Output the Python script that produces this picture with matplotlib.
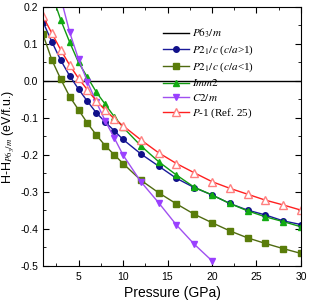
import numpy as np
import matplotlib
matplotlib.use('Agg')
import matplotlib.pyplot as plt
from matplotlib.ticker import MultipleLocator, FuncFormatter

plt.rcParams['font.family'] = 'Liberation Sans'
plt.rcParams['mathtext.fontset'] = 'stix'
plt.rcParams['axes.unicode_minus'] = False

# P21/c (c/a>1)
p_blue = [1, 2, 3, 4, 5, 6, 7, 8, 9, 10, 12, 14, 16, 18, 20, 22, 24, 26, 28, 30]
e_blue = [0.16, 0.106, 0.056, 0.014, -0.022, -0.055, -0.086, -0.111, -0.134, -0.158,
          -0.197, -0.230, -0.263, -0.288, -0.308, -0.331, -0.349, -0.362, -0.378, -0.388]

# P21/c (c/a<1)
p_olive = [1, 2, 3, 4, 5, 6, 7, 8, 9, 10, 12, 14, 16, 18, 20, 22, 24, 26, 28, 30]
e_olive = [0.126, 0.057, 0.005, -0.042, -0.078, -0.114, -0.146, -0.175, -0.199, -0.223,
           -0.268, -0.302, -0.332, -0.360, -0.383, -0.405, -0.424, -0.439, -0.453, -0.466]

# Imm2
p_green = [2, 3, 4, 5, 6, 7, 8, 9, 10, 12, 14, 16, 18, 20, 22, 24, 26, 28, 30]
e_green = [0.235, 0.165, 0.105, 0.05, 0.01, -0.03, -0.063, -0.096, -0.125, -0.175,
           -0.218, -0.254, -0.287, -0.308, -0.331, -0.351, -0.367, -0.380, -0.394]

# C2/m
p_purple = [3, 4, 5, 6, 7, 8, 9, 10, 12, 14, 16, 18, 20]
e_purple = [0.225, 0.132, 0.059, -0.002, -0.057, -0.108, -0.153, -0.200,
            -0.272, -0.329, -0.389, -0.441, -0.486]

# P-1 (Ref. 25)
p_red = [1, 2, 3, 4, 5, 6, 7, 8, 9, 10, 12, 14, 16, 18, 20, 22, 24, 26, 28, 30]
e_red = [0.175, 0.129, 0.084, 0.043, 0.007, -0.024, -0.054, -0.078, -0.102, -0.121,
         -0.159, -0.194, -0.223, -0.248, -0.272, -0.290, -0.306, -0.322, -0.335, -0.349]

fig = plt.figure(figsize=(3.09, 3.04), dpi=100)
ax = fig.add_axes([0.139, 0.125, 0.835, 0.852])

ax.axhline(0, color='black', lw=1.0, label='$P6_3/m$')
ax.plot(p_blue, e_blue, '-o', color='#1a1a9a', mfc='#10108a', mec='#10108a',
        ms=4, lw=1.0, label='$P2_1/c$ ($c/a$>1)')
ax.plot(p_olive, e_olive, '-s', color='#4f6a10', mfc='#5a7d0a', mec='#5a7d0a',
        ms=3.8, lw=1.0, label='$P2_1/c$ ($c/a$<1)')
ax.plot(p_green, e_green, '-^', color='#119a11', mfc='#12aa12', mec='#12aa12',
        ms=4.5, lw=1.0, label='$Imm2$')
ax.plot(p_purple, e_purple, '-v', color='#a050f0', mfc='#9a40ff', mec='#9a40ff',
        ms=4.5, lw=1.0, label='$C2/m$')
ax.plot(p_red, e_red, '-^', color='#ff2020', mfc='white', mec='#ff8080',
        ms=5.5, lw=1.0, label='$P$-1 (Ref. 25)')

ax.set_xlim(1, 30)
ax.set_ylim(-0.5, 0.2)
ax.xaxis.set_major_locator(MultipleLocator(5))
ax.xaxis.set_minor_locator(MultipleLocator(2.5))
ax.yaxis.set_major_locator(MultipleLocator(0.1))
ax.yaxis.set_minor_locator(MultipleLocator(0.05))
ax.yaxis.set_major_formatter(FuncFormatter(lambda v, p: '%.1f' % v))
ax.tick_params(which='both', direction='in', top=True, right=True, labelsize=7.5)
ax.tick_params(axis='x', pad=4)
ax.tick_params(which='major', length=4)
ax.tick_params(which='minor', length=2)

ax.set_xlabel('Pressure (GPa)', fontsize=10, labelpad=3)
ax.set_ylabel('H-H$_{P6_3/m}$ (eV/f.u.)', fontsize=9, labelpad=2)

ax.legend(loc='upper right', bbox_to_anchor=(0.835, 0.94), frameon=False,
          prop={'family': 'Liberation Serif', 'size': 8}, handlelength=2.3,
          labelspacing=0.3, handletextpad=0.3, borderaxespad=0)

fig.savefig('out.png', dpi=100)
